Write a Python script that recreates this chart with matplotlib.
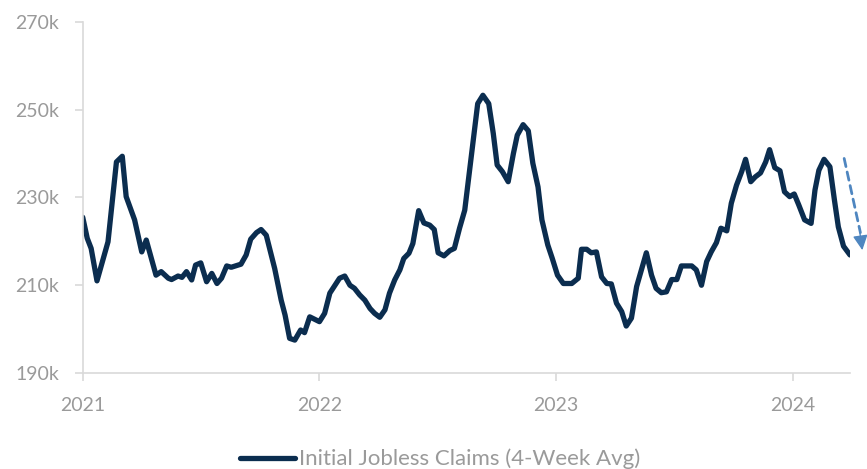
import matplotlib
matplotlib.use("Agg")
import matplotlib.pyplot as plt
import pandas as pd

dates = [
    "2021-01-01", "2021-01-08", "2021-01-14", "2021-01-23", "2021-02-09", "2021-02-22",
    "2021-03-03", "2021-03-09", "2021-03-22", "2021-04-02", "2021-04-09", "2021-04-24",
    "2021-05-02", "2021-05-13", "2021-05-18", "2021-05-28", "2021-06-03", "2021-06-10",
    "2021-06-18", "2021-06-24", "2021-07-02", "2021-07-11", "2021-07-19", "2021-07-27",
    "2021-08-03", "2021-08-11", "2021-08-18", "2021-09-02", "2021-09-10", "2021-09-17",
    "2021-09-26", "2021-10-03", "2021-10-11", "2021-10-24", "2021-11-03", "2021-11-09",
    "2021-11-16", "2021-11-24", "2021-12-03", "2021-12-09", "2021-12-17", "2022-01-01",
    "2022-01-09", "2022-01-17", "2022-01-25", "2022-02-01", "2022-02-09", "2022-02-17",
    "2022-02-24", "2022-03-04", "2022-03-12", "2022-03-20", "2022-03-27", "2022-04-04",
    "2022-04-12", "2022-04-19", "2022-04-27", "2022-05-05", "2022-05-11", "2022-05-19",
    "2022-05-25", "2022-06-03", "2022-06-11", "2022-06-20", "2022-06-27", "2022-07-03",
    "2022-07-12", "2022-07-21", "2022-07-28", "2022-08-05", "2022-08-13", "2022-08-23",
    "2022-09-02", "2022-09-10", "2022-09-19", "2022-09-26", "2022-10-02", "2022-10-10",
    "2022-10-19", "2022-10-27", "2022-11-02", "2022-11-11", "2022-11-19", "2022-11-26",
    "2022-12-04", "2022-12-10", "2022-12-19", "2022-12-26", "2023-01-03", "2023-01-12",
    "2023-01-25", "2023-02-04", "2023-02-09", "2023-02-17", "2023-02-24", "2023-03-04",
    "2023-03-12", "2023-03-20", "2023-03-27", "2023-04-04", "2023-04-12", "2023-04-19",
    "2023-04-27", "2023-05-05", "2023-05-20", "2023-05-28", "2023-06-04", "2023-06-12",
    "2023-06-20", "2023-06-28", "2023-07-06", "2023-07-13", "2023-07-29", "2023-08-05",
    "2023-08-13", "2023-08-21", "2023-08-28", "2023-09-05", "2023-09-12", "2023-09-21",
    "2023-09-28", "2023-10-06", "2023-10-14", "2023-10-20", "2023-10-28", "2023-11-04",
    "2023-11-12", "2023-11-20", "2023-11-26", "2023-12-04", "2023-12-12", "2023-12-19",
    "2023-12-27", "2024-01-03", "2024-01-10", "2024-01-19", "2024-01-29", "2024-02-04",
    "2024-02-10", "2024-02-18", "2024-02-27", "2024-03-05", "2024-03-11", "2024-03-19",
    "2024-03-29",
]

claims_k = [
    225.5, 220.7, 218.4, 211.0, 219.9, 238.1,
    239.4, 230.2, 224.9, 217.6, 220.3, 212.3,
    213.1, 211.6, 211.3, 212.1, 211.8, 213.1,
    211.2, 214.6, 215.1, 210.8, 212.7, 210.4,
    211.6, 214.4, 214.1, 214.8, 216.9, 220.5,
    222.0, 222.7, 221.4, 213.8, 206.6, 203.2,
    197.9, 197.5, 199.8, 199.2, 202.8, 201.7,
    203.6, 208.2, 210.0, 211.6, 212.1, 210.0,
    209.3, 207.8, 206.6, 204.7, 203.6, 202.7,
    204.4, 208.2, 211.2, 213.5, 216.1, 217.3,
    219.5, 227.0, 224.2, 223.7, 222.7, 217.4,
    216.7, 217.9, 218.4, 223.0, 227.1, 239.3,
    251.4, 253.3, 251.4, 244.6, 237.4, 235.9,
    233.6, 240.0, 244.2, 246.6, 245.2, 237.8,
    232.4, 224.9, 219.2, 216.1, 212.3, 210.4,
    210.4, 211.6, 218.2, 218.2, 217.4, 217.6,
    211.9, 210.4, 210.3, 205.9, 204.0, 200.7,
    202.5, 209.7, 217.4, 212.3, 209.3, 208.3,
    208.5, 211.3, 211.3, 214.4, 214.4, 213.5,
    210.0, 215.4, 217.6, 219.7, 223.0, 222.4,
    228.7, 232.8, 235.9, 238.7, 233.6, 234.7,
    235.6, 238.1, 240.9, 236.8, 236.1, 231.3,
    230.2, 230.8, 228.3, 224.9, 224.1, 231.7,
    236.2, 238.7, 237.0, 229.4, 223.3, 218.9,
    216.9,
]

y_ticks = [190000, 210000, 230000, 250000, 270000]
y_tick_labels = ["190k", "210k", "230k", "250k", "270k"]
x_ticks = ["2021-01-01", "2022-01-01", "2023-01-01", "2024-01-01"]
x_tick_labels = ["2021", "2022", "2023", "2024"]
series_label = "Initial Jobless Claims (4-Week Avg)"

plt.rcParams["font.family"] = ["Lato", "DejaVu Sans"]

x = pd.to_datetime(dates)
y = [v * 1000 for v in claims_k]

fig = plt.figure(figsize=(8.67, 4.69), dpi=100)
ax = fig.add_axes([0.0954, 0.2047, 0.885, 0.7484])

line_color = "#0b2d4f"
grey = "#9a9a9a"
ax.plot(x, y, color=line_color, lw=3.8, solid_joinstyle="round",
        solid_capstyle="round", label=series_label)

ax.set_xlim(pd.Timestamp("2021-01-01"), pd.Timestamp("2024-03-29"))
ax.set_ylim(190000, 270000)
ax.set_yticks(y_ticks)
ax.set_yticklabels(y_tick_labels)
ax.set_xticks(pd.to_datetime(x_ticks))
ax.set_xticklabels(x_tick_labels)

for s in ["top", "right"]:
    ax.spines[s].set_visible(False)
for s in ["left", "bottom"]:
    ax.spines[s].set_color("#d9d9d9")
    ax.spines[s].set_linewidth(1.2)
ax.tick_params(axis="both", colors="#d9d9d9", labelcolor=grey, labelsize=14,
               length=6, width=1.2, pad=11)

# dashed arrow indicating downturn
arrow_color = "#4f86c0"
ax.annotate("", xy=(pd.Timestamp("2024-04-14"), 222000),
            xytext=(pd.Timestamp("2024-03-20"), 238900),
            xycoords="data", annotation_clip=False,
            arrowprops=dict(arrowstyle="-", color=arrow_color, lw=2.0,
                            linestyle=(0, (3.0, 2.0)), shrinkA=0, shrinkB=0))
ax.annotate("", xy=(pd.Timestamp("2024-04-17"), 218000),
            xytext=(pd.Timestamp("2024-04-13"), 222200),
            xycoords="data", annotation_clip=False,
            arrowprops=dict(arrowstyle="-|>,head_length=0.9,head_width=0.45",
                            color=arrow_color, lw=1.0, shrinkA=0, shrinkB=0))

leg = fig.legend(handles=ax.get_lines(), labels=[series_label],
                 loc="center", bbox_to_anchor=(0.5075, 0.021), frameon=False,
                 fontsize=16, handlelength=2.5, handletextpad=0.15)
for t in leg.get_texts():
    t.set_color(grey)

fig.savefig("out.png", dpi=100)
